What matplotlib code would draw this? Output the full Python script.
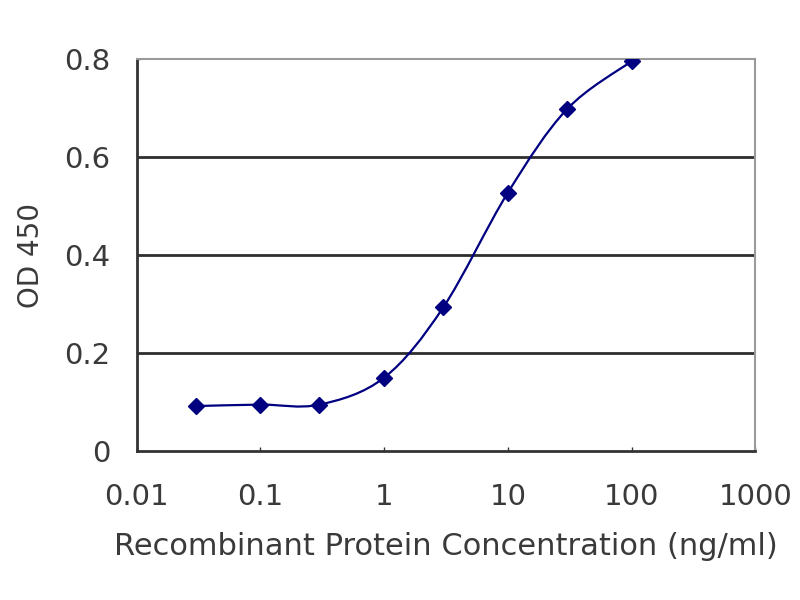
import numpy as np
import matplotlib
matplotlib.use('Agg')
import matplotlib.pyplot as plt
from matplotlib.path import Path
from matplotlib.patches import PathPatch

# Data
conc = [0.03, 0.1, 0.3, 1, 3, 10, 30, 100]
od450 = [0.092, 0.095, 0.095, 0.150, 0.293, 0.527, 0.697, 0.795]
x_ticks = [0.01, 0.1, 1, 10, 100, 1000]
x_tick_labels = ['0.01', '0.1', '1', '10', '100', '1000']
y_ticks = [0, 0.2, 0.4, 0.6, 0.8]
y_tick_labels = ['0', '0.2', '0.4', '0.6', '0.8']

NAVY = '#000080'
TEXT = '#3a3a3a'

plt.rcParams['font.family'] = ['DejaVu Sans']


def smooth_path(xs, ys, tension=1 / 6):
    '''Excel-like smoothed line as cubic Bezier segments (log x space)'''
    lx = np.log10(xs)
    ly = np.asarray(ys, dtype=float)
    # scale y to roughly the same visual units as log x
    sy = 5 / 0.8 * 392 / 618
    verts = [(xs[0], ys[0])]
    codes = [Path.MOVETO]
    n = len(lx)
    for i in range(n - 1):
        p0 = (lx[max(i - 1, 0)], ly[max(i - 1, 0)] * sy)
        p1 = (lx[i], ly[i] * sy)
        p2 = (lx[i + 1], ly[i + 1] * sy)
        p3 = (lx[min(i + 2, n - 1)], ly[min(i + 2, n - 1)] * sy)
        c1 = (p1[0] + (p2[0] - p0[0]) * tension, p1[1] + (p2[1] - p0[1]) * tension)
        c2 = (p2[0] - (p3[0] - p1[0]) * tension, p2[1] - (p3[1] - p1[1]) * tension)
        for c in (c1, c2, p2):
            verts.append((10 ** c[0], c[1] / sy))
            codes.append(Path.CURVE4)
    return Path(verts, codes)


fig = plt.figure(figsize=(8, 6), dpi=100)
ax = fig.add_axes([0.171, 0.248, 0.773, 0.654])
ax.set_xscale('log')
ax.set_xlim(0.01, 1000)
ax.set_ylim(0, 0.8)

# horizontal gridlines
for y in y_ticks[1:-1]:
    ax.axhline(y, color='#2e2e2e', lw=2, zorder=1)

ax.add_patch(PathPatch(smooth_path(conc, od450), facecolor='none',
                       edgecolor=NAVY, lw=1.6, zorder=2))
ax.plot(conc, od450, linestyle='none', marker='D', markersize=8,
        color=NAVY, zorder=3)

ax.set_xticks(x_ticks)
ax.set_xticklabels(x_tick_labels)
ax.minorticks_off()
ax.set_yticks(y_ticks)
ax.set_yticklabels(y_tick_labels)
ax.tick_params(axis='x', direction='in', length=3, width=1, color='#333333',
               labelsize=21, pad=23, labelcolor=TEXT)
ax.tick_params(axis='y', direction='in', length=2, width=1, color='#333333',
               labelsize=21, pad=19, labelcolor=TEXT)

for side in ('left', 'bottom'):
    ax.spines[side].set_color('#333333')
    ax.spines[side].set_linewidth(2)
for side in ('top', 'right'):
    ax.spines[side].set_color('#9a9a9a')
    ax.spines[side].set_linewidth(1.5)

ax.set_xlabel('Recombinant Protein Concentration (ng/ml)', fontsize=22,
              color=TEXT, labelpad=15)
ax.set_ylabel('OD 450', fontsize=20, color=TEXT, labelpad=14)

fig.savefig('out.png', dpi=100)
